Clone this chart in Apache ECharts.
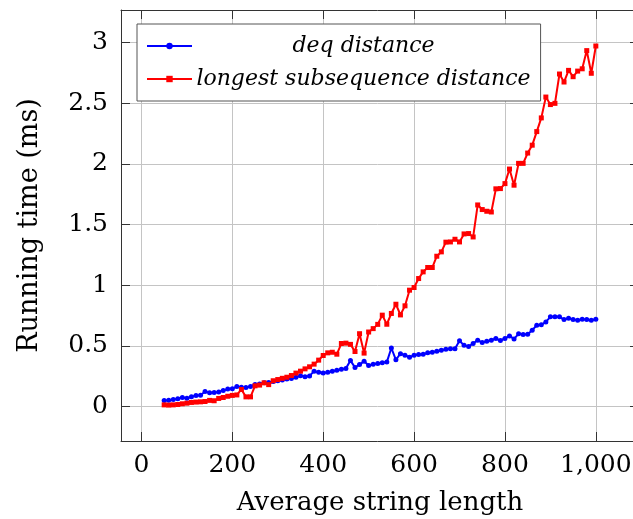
<!DOCTYPE html>
<html>
<head>
<meta charset="utf-8">
<script src="https://cdn.jsdelivr.net/npm/echarts@6/dist/echarts.min.js"></script>
<style>
html,body{margin:0;padding:0;background:#fff;}
#chart{width:633px;height:519px;}
</style>
</head>
<body>
<div id="chart"></div>
<script>
const lengths = [50,60,70,80,90,100,110,120,130,140,150,160,170,180,190,200,210,220,230,240,
250,260,270,280,290,300,310,320,330,340,350,360,370,380,390,400,410,420,430,440,
450,460,470,480,490,500,510,520,530,540,550,560,570,580,590,600,610,620,630,640,
650,660,670,680,690,700,710,720,730,740,750,760,770,780,790,800,810,820,830,840,
850,860,870,880,890,900,910,920,930,940,950,960,970,980,990,1000];

const deqDistance = [0.050,0.052,0.058,0.063,0.074,0.068,0.079,0.090,0.093,0.124,
0.112,0.115,0.120,0.132,0.143,0.145,0.165,0.159,0.157,0.165,
0.181,0.186,0.195,0.198,0.205,0.212,0.218,0.226,0.231,0.240,
0.254,0.245,0.252,0.291,0.282,0.276,0.282,0.291,0.298,0.306,
0.314,0.378,0.322,0.345,0.373,0.338,0.348,0.354,0.360,0.366,
0.482,0.385,0.435,0.423,0.405,0.423,0.429,0.431,0.442,0.448,
0.456,0.464,0.472,0.475,0.475,0.541,0.505,0.495,0.519,0.547,
0.527,0.538,0.547,0.560,0.544,0.561,0.582,0.557,0.599,0.594,
0.596,0.629,0.670,0.673,0.697,0.739,0.739,0.739,0.717,0.728,
0.717,0.712,0.720,0.717,0.712,0.720];

const lcsDistance = [0.013,0.011,0.013,0.016,0.022,0.027,0.033,0.036,0.038,0.041,
0.050,0.047,0.066,0.074,0.084,0.091,0.095,0.140,0.079,0.079,
0.170,0.176,0.195,0.180,0.212,0.222,0.232,0.241,0.255,0.275,
0.291,0.310,0.327,0.349,0.382,0.420,0.442,0.447,0.431,0.519,
0.522,0.512,0.453,0.600,0.440,0.614,0.642,0.677,0.753,0.678,
0.767,0.843,0.755,0.830,0.959,0.981,1.055,1.110,1.146,1.146,
1.239,1.275,1.355,1.357,1.379,1.357,1.423,1.426,1.398,1.662,
1.624,1.610,1.604,1.795,1.797,1.838,1.958,1.825,2.005,2.005,
2.090,2.155,2.267,2.380,2.552,2.490,2.500,2.742,2.676,2.772,
2.720,2.766,2.785,2.935,2.748,2.973];

const xTicks = [0,200,400,600,800,1000];
const yTicks = [0,0.5,1,1.5,2,2.5,3];
const seriesNames = ['deq distance','longest subsequence distance'];

const FONT = 'DejaVu Serif';
const axisColor = '#333';
const gridColor = '#c4c4c4';

function pairs(xs, ys){ return xs.map((x,i)=>[x, ys[i]]); }

const chart = echarts.init(document.getElementById('chart'), null, {renderer:'canvas'});

const xBase = {
  type:'value', min:-45, max:1095,
  axisLine:{show:true, onZero:false, lineStyle:{color:axisColor, width:1}},
  axisTick:{show:true, inside:true, length:9, customValues:xTicks, lineStyle:{color:axisColor, width:1}},
};
const yBase = {
  type:'value', min:-0.285, max:3.27,
  axisLine:{show:true, onZero:false, lineStyle:{color:axisColor, width:1}},
  axisTick:{show:true, inside:true, length:9, customValues:yTicks, lineStyle:{color:axisColor, width:1}},
};

chart.setOption({
  animation:false,
  backgroundColor:'#fff',
  textStyle:{fontFamily:FONT},
  grid:{left:121, top:10, width:518, height:431, containLabel:false, outerBoundsMode:'none'},
  xAxis:[
    Object.assign({}, xBase, {
      position:'bottom',
      name:'Average string length', nameLocation:'middle', nameGap:49,
      nameTextStyle:{fontFamily:FONT, fontSize:26, color:'#000'},
      axisLabel:{show:true, customValues:xTicks, margin:12, fontFamily:FONT, fontSize:25, color:'#000',
        formatter:v=>Number(v).toLocaleString('en-US')},
      splitLine:{show:true, lineStyle:{color:gridColor, width:1}}
    }),
    Object.assign({}, xBase, {
      position:'top',
      axisLabel:{show:false}, splitLine:{show:false}
    })
  ],
  yAxis:[
    Object.assign({}, yBase, {
      position:'left',
      name:'Running time (ms)', nameLocation:'middle', nameGap:78, nameRotate:90,
      nameTextStyle:{fontFamily:FONT, fontSize:27, color:'#000'},
      axisLabel:{show:true, customValues:yTicks, margin:13, fontFamily:FONT, fontSize:25, color:'#000'},
      splitLine:{show:true, lineStyle:{color:gridColor, width:1}}
    }),
    Object.assign({}, yBase, {
      position:'right',
      axisLabel:{show:false}, splitLine:{show:false}
    })
  ],
  legend:{
    orient:'vertical', left:137, top:24,
    padding:[8,10,8,9], itemGap:5,
    itemWidth:45, itemHeight:8,
    borderColor:'#555', borderWidth:1, backgroundColor:'#fff',
    data:seriesNames,
    formatter:'{a|{name}}',
    textStyle:{fontFamily:FONT, fontSize:22, fontStyle:'italic', color:'#000', lineHeight:28,
      rich:{a:{width:333, height:28, align:'center', fontFamily:FONT, fontSize:22, fontStyle:'italic', lineHeight:28, color:'#000'}}}
  },
  series:[
    {
      name:seriesNames[0], type:'line', xAxisIndex:0, yAxisIndex:0,
      data:pairs(lengths, deqDistance),
      symbol:'circle', symbolSize:5, showAllSymbol:true,
      lineStyle:{color:'#0000ff', width:2},
      itemStyle:{color:'#0000ff'}
    },
    {
      name:seriesNames[1], type:'line', xAxisIndex:0, yAxisIndex:0,
      data:pairs(lengths, lcsDistance),
      symbol:'rect', symbolSize:5, showAllSymbol:true,
      lineStyle:{color:'#ff0000', width:2},
      itemStyle:{color:'#ff0000'}
    }
  ]
});
</script>
</body>
</html>
